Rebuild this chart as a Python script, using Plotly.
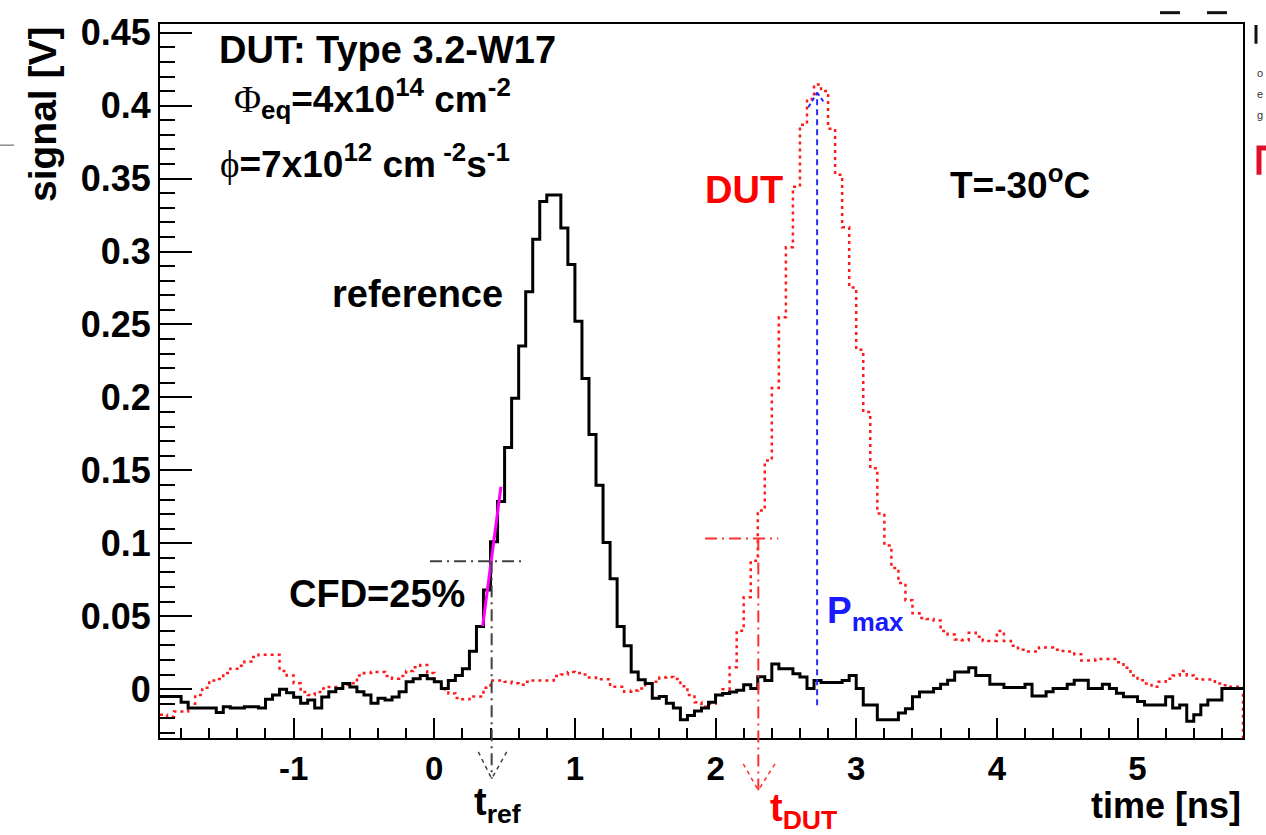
import numpy as np
import plotly.graph_objects as go

# ---------------- data ----------------
bin_width = 0.05          # ns
t_start = -1.95           # ns, left edge of first bin

ref_signal = [
    -0.005, -0.005, -0.005, -0.009, -0.013, -0.013, -0.013, -0.013, -0.016, -0.012,
    -0.013, -0.013, -0.012, -0.012, -0.013, -0.007, -0.004, 0.000, -0.0025, -0.0056,
    -0.0097, -0.0074, -0.013, -0.0054, -0.0018, 0.0004, 0.0038, 0.0015, -0.0018, -0.004,
    -0.0097, -0.0063, -0.0074, -0.0054, -0.0018, 0.005, 0.0072, 0.0094, 0.0072, 0.005,
    0.0004, 0.006, 0.0094, 0.014, 0.026, 0.043, 0.068, 0.101, 0.1286, 0.1657,
    0.1994, 0.2353, 0.2724, 0.3084, 0.3343, 0.3387, 0.3387, 0.3162, 0.2911, 0.2522,
    0.2129, 0.1746, 0.1398, 0.1005, 0.0756, 0.043, 0.0297, 0.0117, 0.0065, 0.0038,
    -0.0063, -0.005, -0.0097, -0.013, -0.021, -0.018, -0.015, -0.013, -0.009, -0.004,
    -0.003, -0.002, -0.0007, 0.003, 0.0004, 0.0085, 0.006, 0.0173, 0.014, 0.014,
    0.0106, 0.0083, 0.0004, 0.006, 0.0045, 0.0045, 0.0045, 0.006, 0.0094, 0.0004,
    -0.0108, -0.0108, -0.021, -0.021, -0.021, -0.0164, -0.0135, -0.0052, -0.002, -0.002,
    0.0004, 0.0034, 0.0061, 0.0117, 0.0117, 0.0146, 0.0094, 0.0094, 0.0034, 0.0034,
    0.0011, 0.0011, 0.0011, 0.0034, -0.0047, -0.0047, -0.0018, 0.0004, 0.0004, 0.0034,
    0.0061, 0.0061, 0.0004, 0.0004, 0.0034, 0.0004, -0.0029, -0.0052, -0.0052, -0.0085,
    -0.0108, -0.0108, -0.0108, -0.0052, -0.013, -0.0108, -0.022, -0.0175, -0.0108, -0.0074,
    -0.0074, 0.0004, 0.0004, 0.0004,
]

dut_signal = [
    -0.0175, -0.019, -0.0153, -0.0153, -0.010, -0.004, 0.001, 0.006, 0.007, 0.011,
    0.014, 0.016, 0.019, 0.022, 0.0236, 0.0236, 0.0236, 0.0125, 0.0094, 0.004,
    -0.002, -0.004, -0.002, 0.0004, 0.0015, 0.0015, 0.003, 0.004, 0.0094, 0.011,
    0.0117, 0.0117, 0.009, 0.0072, 0.009, 0.0125, 0.015, 0.0165, 0.011, 0.005,
    0.000, -0.003, -0.006, -0.007, -0.005, -0.005, 0.001, 0.006, 0.006, 0.005,
    0.004, 0.003, 0.005, 0.006, 0.006, 0.006, 0.009, 0.010, 0.0117, 0.011,
    0.010, 0.008, 0.0067, 0.0067, 0.0016, 0.0016, -0.0018, -0.001, 0.0004, 0.004,
    0.005, 0.008, 0.0083, 0.007, 0.002, -0.004, -0.009, -0.012, -0.010, -0.004,
    0.000, 0.015, 0.040, 0.063, 0.088, 0.1225, 0.1567, 0.2065, 0.255, 0.303,
    0.3445, 0.387, 0.4045, 0.4146, 0.410, 0.3842, 0.3527, 0.3167, 0.2753, 0.2327,
    0.190, 0.1514, 0.1204, 0.0985, 0.0831, 0.0727, 0.061, 0.052, 0.0488, 0.048,
    0.047, 0.0398, 0.0375, 0.034, 0.0335, 0.0386, 0.036, 0.033, 0.033, 0.0398,
    0.033, 0.0297, 0.027, 0.0258, 0.0258, 0.0285, 0.0285, 0.027, 0.0261, 0.0258,
    0.024, 0.0196, 0.0196, 0.0207, 0.0207, 0.0207, 0.0184, 0.0146, 0.0094, 0.0061,
    0.0038, 0.0016, 0.005, 0.0072, 0.0094, 0.0124, 0.0094, 0.0072, 0.0066, 0.0066,
    0.0038, 0.0027, 0.0016, 0.0016,
]

# timing / CFD markers
t_ref = 0.408          # ns, CFD crossing of reference
cfd_ref_level = 0.0877 # V
t_dut = 2.304          # ns, CFD crossing of DUT
cfd_dut_level = 0.1032 # V
t_pmax = 2.722         # ns, position of DUT maximum
pmax_level = 0.409     # V
pmax_bottom = -0.011   # V
slope_t = [0.344, 0.474]      # magenta CFD interpolation segment
slope_v = [0.0432, 0.1387]

x_ticks = [-1, 0, 1, 2, 3, 4, 5]
y_ticks = [0, 0.05, 0.1, 0.15, 0.2, 0.25, 0.3, 0.35, 0.4, 0.45]
y_tick_text = ["0", "0.05", "0.1", "0.15", "0.2", "0.25", "0.3", "0.35", "0.4", "0.45"]

XMIN, XMAX = -1.95, 5.75
YMIN, YMAX = -0.0335, 0.456

# ---------------- figure ----------------
W, H = 1266, 835
ML, MR, MT, MB = 160, 23, 13, 97
FONT = "Liberation Sans, Arial, Helvetica, sans-serif"

edges = t_start + bin_width * np.arange(len(ref_signal) + 1)


def step_y(vals):
    return list(vals) + [vals[-1]]


def vy(v):
    """data value -> paper y"""
    return (v - YMIN) / (YMAX - YMIN)


def px(xp):
    return (xp - ML) / (W - ML - MR)


def py(yp):
    return (H - MB - yp) / (H - MT - MB)


fig = go.Figure()

fig.add_trace(go.Scatter(
    x=list(edges) + [edges[-1]], y=step_y(dut_signal) + [YMIN],
    mode="lines", line=dict(shape="hv", color="#ff1a1a", width=2.5, dash="3px,4px"),
    hoverinfo="skip", showlegend=False))

fig.add_trace(go.Scatter(
    x=edges, y=step_y(ref_signal),
    mode="lines", line=dict(shape="hv", color="black", width=3),
    hoverinfo="skip", showlegend=False))

fig.add_trace(go.Scatter(
    x=slope_t, y=slope_v, mode="lines",
    line=dict(color="#ff00ff", width=3), hoverinfo="skip", showlegend=False))

shapes = []
dd_black = dict(color="#404040", width=2, dash="12px,5px,2px,5px")
dd_red = dict(color="#ff3030", width=2, dash="12px,5px,2px,5px")
dash_blue = dict(color="#2a2aff", width=2, dash="6px,4px")

# reference CFD lines
shapes.append(dict(type="line", xref="x", yref="y", x0=-0.03, x1=0.624,
                   y0=cfd_ref_level, y1=cfd_ref_level, line=dd_black))
shapes.append(dict(type="line", xref="x", yref="paper", x0=t_ref, x1=t_ref,
                   y0=vy(cfd_ref_level), y1=vy(-0.0614), line=dd_black))
shapes.append(dict(type="line", xref="x", yref="paper", x0=0.313, x1=t_ref,
                   y0=vy(-0.043), y1=vy(-0.0614), line=dict(color="#404040", width=1.5, dash="4px,4px")))
shapes.append(dict(type="line", xref="x", yref="paper", x0=0.515, x1=t_ref,
                   y0=vy(-0.043), y1=vy(-0.0614), line=dict(color="#404040", width=1.5, dash="4px,4px")))

# DUT CFD lines
shapes.append(dict(type="line", xref="x", yref="y", x0=1.925, x1=2.446,
                   y0=cfd_dut_level, y1=cfd_dut_level, line=dd_red))
shapes.append(dict(type="line", xref="x", yref="paper", x0=t_dut, x1=t_dut,
                   y0=vy(cfd_dut_level), y1=vy(-0.0693), line=dd_red))
shapes.append(dict(type="line", xref="x", yref="paper", x0=2.197, x1=t_dut,
                   y0=vy(-0.0513), y1=vy(-0.0693), line=dict(color="#ff3030", width=1.5, dash="4px,4px")))
shapes.append(dict(type="line", xref="x", yref="paper", x0=2.422, x1=t_dut,
                   y0=vy(-0.0513), y1=vy(-0.0693), line=dict(color="#ff3030", width=1.5, dash="4px,4px")))

# Pmax line with arrow
shapes.append(dict(type="line", xref="x", yref="y", x0=t_pmax, x1=t_pmax,
                   y0=pmax_bottom, y1=pmax_level, line=dash_blue))
shapes.append(dict(type="line", xref="x", yref="y", x0=2.66, x1=t_pmax,
                   y0=0.399, y1=pmax_level, line=dict(color="#2a2aff", width=2, dash="4px,3px")))
shapes.append(dict(type="line", xref="x", yref="y", x0=2.766, x1=t_pmax,
                   y0=0.403, y1=pmax_level, line=dict(color="#2a2aff", width=2, dash="4px,3px")))

# stray slide fragments around the picture
shapes.append(dict(type="line", xref="paper", yref="paper", x0=px(0), x1=px(14),
                   y0=py(136), y1=py(136), line=dict(color="#555", width=1)))
shapes.append(dict(type="line", xref="paper", yref="paper", x0=px(1160), x1=px(1180),
                   y0=py(1.5), y1=py(1.5), line=dict(color="#111", width=3)))
shapes.append(dict(type="line", xref="paper", yref="paper", x0=px(1207), x1=px(1227),
                   y0=py(1.5), y1=py(1.5), line=dict(color="#111", width=3)))
shapes.append(dict(type="line", xref="paper", yref="paper", x0=px(1256), x1=px(1256),
                   y0=py(14), y1=py(33), line=dict(color="#111", width=3)))
shapes.append(dict(type="path", xref="paper", yref="paper",
                   path=f"M {px(1259)} {py(166)} L {px(1259)} {py(139)} L {px(1266)} {py(139)}",
                   line=dict(color="#e0102a", width=5)))

fig.update_layout(shapes=shapes)

ann = []


def text(xv, yv, s, size, color="black", xanchor="left", yanchor="middle", xref="x", yref="y", angle=0, bold=True):
    ann.append(dict(x=xv, y=yv, xref=xref, yref=yref, text=s, showarrow=False,
                    xanchor=xanchor, yanchor=yanchor, textangle=angle,
                    font=dict(family=FONT, size=size, color=color,
                              weight="bold" if bold else "normal")))


phi_big = "<span style=\"font-family:'Liberation Serif',serif;font-weight:normal\">Φ</span>"
phi_small = "<span style=\"font-family:'Liberation Serif',serif;font-weight:normal\">ϕ</span>"

text(-1.545, 0.438, "DUT: Type 3.2-W17", 38)
text(-1.438, 0.405, phi_big + "<sub>eq</sub>=4x10<sup>14</sup> cm<sup>-2</sup>", 37)
text(-1.538, 0.362, phi_small + "=7x10<sup>12</sup> cm<sup> -2</sup>s<sup>-1</sup>", 37)
text(-0.741, 0.271, "reference", 38)
text(1.911, 0.342, "DUT", 38, color="#ff0000")
text(3.653, 0.347, "T=-30<sup>o</sup>C", 37)
text(-1.047, 0.065, "CFD=25%", 38)
text(2.78, 0.052, "P<sub>max</sub>", 37, color="#1a1aff")
text(px(472), py(806), "t<sub>ref</sub>", 38, xref="paper", yref="paper")
text(px(768), py(812), "t<sub>DUT</sub>", 38, color="#ff0000", xref="paper", yref="paper")
text(1.0, py(807), "time [ns]", 36, xanchor="right", xref="paper", yref="paper")
text(px(42), 1.0, "signal [V]", 39, xanchor="center", yanchor="top", xref="paper", yref="paper", angle=-90)

# slide fragments at the right edge
for s, yp in [("o", 63), ("e", 84), ("g", 105)]:
    ann.append(dict(x=px(1255), y=py(yp), xref="paper", yref="paper", text=s, showarrow=False,
                    xanchor="left", yanchor="middle", font=dict(family=FONT, size=11, color="#333")))

fig.update_layout(annotations=ann)

fig.update_xaxes(
    range=[XMIN, XMAX], tickvals=x_ticks, ticktext=[str(v) for v in x_ticks],
    ticks="inside", ticklen=20, tickwidth=2, tickcolor="black",
    minor=dict(ticks="inside", ticklen=10, tickwidth=2, tickcolor="black", dtick=0.2, tick0=0),
    showline=True, linewidth=2, linecolor="black", mirror=True,
    showgrid=False, zeroline=False,
    tickfont=dict(family=FONT, size=33, color="black", weight="bold"),
)
fig.update_yaxes(
    range=[YMIN, YMAX], tickvals=y_ticks, ticktext=y_tick_text,
    ticks="inside", ticklen=32, tickwidth=2, tickcolor="black",
    minor=dict(ticks="inside", ticklen=15, tickwidth=2, tickcolor="black", dtick=0.01, tick0=0),
    showline=True, linewidth=2, linecolor="black", mirror=True,
    showgrid=False, zeroline=False,
    tickfont=dict(family=FONT, size=36, color="black", weight="bold"),
)

fig.update_layout(
    width=W, height=H,
    margin=dict(l=ML, r=MR, t=MT, b=MB, pad=0),
    paper_bgcolor="white", plot_bgcolor="white",
    showlegend=False,
)

fig.write_html("out.html")
